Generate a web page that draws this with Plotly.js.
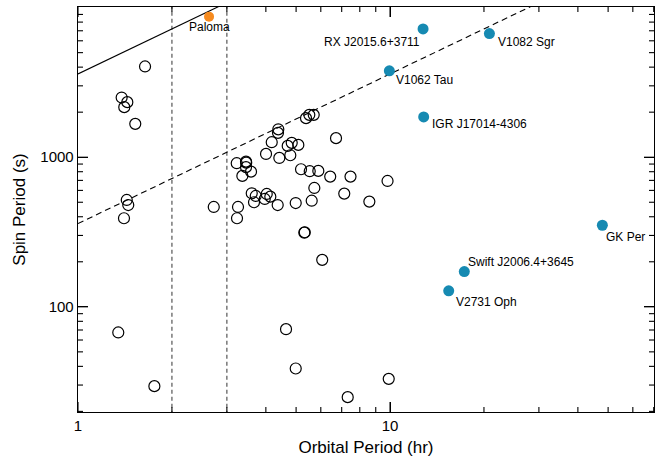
<!DOCTYPE html>
<html>
<head>
<meta charset="utf-8">
<script src="https://cdn.plot.ly/plotly-3.0.1.min.js"></script>
<style>html,body{margin:0;padding:0;background:#fff}#chart{width:660px;height:457px}</style>
</head>
<body>
<div id="chart"></div>
<script>
// Open circles: orbital period (hr) and spin period (s)
const openOrb = [1.640, 1.380, 1.439, 1.407, 1.526, 1.433, 1.449, 1.404, 1.346, 1.757,
  4.385, 4.375, 4.177, 4.005, 4.418, 4.700, 4.841, 5.083, 4.791, 6.713,
  5.380, 5.512, 5.694, 3.226, 3.455, 3.460, 3.455, 3.585, 3.363, 5.185,
  5.529, 5.891, 6.432, 7.470, 9.818, 5.720, 7.134, 8.585, 5.610, 4.986,
  4.365, 3.604, 3.712, 3.665, 3.967, 4.026, 4.134, 2.723, 3.257, 3.233,
  5.313, 5.330, 6.063, 4.642, 4.986, 7.318, 9.904];
const openSpin = [4041, 2505, 2334, 2161, 1671, 518, 479, 391, 67.4, 29.5,
  1536, 1455, 1260, 1052, 989, 1190, 1247, 1209, 1031, 1341,
  1824, 1919, 1919, 912, 935, 920, 858, 801, 750, 831,
  806, 810, 742, 742, 694, 623, 571, 505, 512, 494,
  479, 574, 551, 500, 526, 568, 545, 465, 465, 391,
  313, 315, 206, 70.9, 38.7, 24.9, 33.0];

// Named systems (filled)
const namedNames = ["RX J2015.6+3711", "V1082 Sgr", "V1062 Tau", "IGR J17014-4306", "GK Per", "Swift J2006.4+3645", "V2731 Oph"];
const namedOrb = [12.76, 20.82, 9.95, 12.82, 47.92, 17.3, 15.42];
const namedSpin = [7196, 6700, 3780, 1859, 351, 172, 128];

const palomaName = "Paloma";
const palomaOrb = [2.63];
const palomaSpin = [8700];

// Reference lines: spin = orbital period, and spin = 0.1 orbital period
const lineOrb = [1, 70];
const secPerHr = 3600;
const syncSpin = lineOrb.map(p => p * secPerHr);
const tenthSpin = lineOrb.map(p => 0.1 * p * secPerHr);
const gapEdges = [2, 3];
const gapSpin = [19, 11000];

const xTicks = [1, 10];
const xTickText = ["1", "10"];
const xMinor = [2,3,4,5,6,7,8,9,20,30,40,50,60,70];
const yTicks = [100, 1000];
const yTickText = ["100", "1000"];
const yMinor = [20,30,40,50,60,70,80,90,200,300,400,500,600,700,800,900,2000,3000,4000,5000,6000,7000,8000,9000];

const FONT = "Liberation Sans, Arial, Helvetica, sans-serif";
const blue = "#168ab2";
const orange = "#f68b1f";
const W = 660, H = 457;
const M = {l: 78, r: 6, t: 7, b: 45};
const X_RANGE = [0, 1.846];
const Y_RANGE = [1.297, 4.004];
const MAJOR_LEN = 10, MINOR_LEN = 5;

// pixels per decade, from the axis ranges and plot size
const pxPerDecX = (W - M.l - M.r) / (X_RANGE[1] - X_RANGE[0]);
const pxPerDecY = (H - M.t - M.b) / (Y_RANGE[1] - Y_RANGE[0]);

// Tick marks on all four sides, built as one line trace with gaps
const tickX = [], tickY = [];
function xTick(v, len) {
  const d = len / pxPerDecY;
  tickX.push(v, v, null, v, v, null);
  tickY.push(Math.pow(10, Y_RANGE[0]), Math.pow(10, Y_RANGE[0] + d), null,
             Math.pow(10, Y_RANGE[1]), Math.pow(10, Y_RANGE[1] - d), null);
}
function yTick(v, len) {
  const d = len / pxPerDecX;
  tickY.push(v, v, null, v, v, null);
  tickX.push(Math.pow(10, X_RANGE[0]), Math.pow(10, X_RANGE[0] + d), null,
             Math.pow(10, X_RANGE[1]), Math.pow(10, X_RANGE[1] - d), null);
}
xTicks.forEach(v => xTick(v, MAJOR_LEN));
xMinor.forEach(v => xTick(v, MINOR_LEN));
yTicks.forEach(v => yTick(v, MAJOR_LEN));
yMinor.forEach(v => yTick(v, MINOR_LEN));

const traces = [];
gapEdges.forEach(g => traces.push({
  x: [g, g], y: gapSpin, mode: "lines", showlegend: false, hoverinfo: "skip",
  line: {color: "#555", width: 1.2, dash: "4px,3px"}
}));
traces.push({x: lineOrb, y: syncSpin, mode: "lines", showlegend: false, line: {color: "#000", width: 1.1}});
traces.push({x: lineOrb, y: tenthSpin, mode: "lines", showlegend: false, line: {color: "#000", width: 1.1, dash: "6px,4px"}});
traces.push({x: tickX, y: tickY, mode: "lines", showlegend: false, hoverinfo: "skip", connectgaps: false,
  line: {color: "#000", width: 1.1}});
traces.push({x: openOrb, y: openSpin, mode: "markers", showlegend: false,
  marker: {symbol: "circle-open", size: 11, color: "#000", line: {width: 1.2, color: "#000"}}});
traces.push({x: namedOrb, y: namedSpin, mode: "markers", showlegend: false, marker: {symbol: "circle", size: 11, color: blue}});
traces.push({x: palomaOrb, y: palomaSpin, mode: "markers", showlegend: false, marker: {symbol: "circle", size: 10, color: orange}});

const offsets = [
  {xanchor: "right", xshift: -1, yshift: -13},
  {xanchor: "left", xshift: 7, yshift: -8},
  {xanchor: "left", xshift: 5, yshift: -9},
  {xanchor: "left", xshift: 6, yshift: -7},
  {xanchor: "left", xshift: 2, yshift: -12},
  {xanchor: "left", xshift: 2, yshift: 10},
  {xanchor: "left", xshift: 5, yshift: -11}
];
const annFont = {family: FONT, size: 12, color: "#000"};
const annotations = namedNames.map((n, i) => Object.assign({
  x: Math.log10(namedOrb[i]), y: Math.log10(namedSpin[i]), xref: "x", yref: "y",
  text: n, showarrow: false, yanchor: "middle", font: annFont
}, offsets[i]));
annotations.push({x: Math.log10(palomaOrb[0]), y: Math.log10(palomaSpin[0]), xref: "x", yref: "y",
  text: palomaName, showarrow: false, xanchor: "center", yanchor: "middle", yshift: -10, font: annFont});

const axisCommon = {
  showgrid: false, zeroline: false, showline: true, linecolor: "#000", linewidth: 1.3,
  mirror: "ticks", ticks: "inside", ticklen: MAJOR_LEN, tickwidth: 1, tickcolor: "#000",
  tickfont: {family: FONT, size: 15, color: "#000"}
};

const layout = {
  width: W, height: H,
  margin: M,
  paper_bgcolor: "#fff", plot_bgcolor: "#fff",
  font: {family: FONT, color: "#000"},
  xaxis: Object.assign({}, axisCommon, {
    type: "log", range: X_RANGE, tickmode: "array", tickvals: xTicks, ticktext: xTickText,
    title: {text: "Orbital Period (hr)", font: {family: FONT, size: 17, color: "#000"}, standoff: 8}
  }),
  yaxis: Object.assign({}, axisCommon, {
    type: "log", range: Y_RANGE, tickmode: "array", tickvals: yTicks, ticktext: yTickText,
    title: {text: "Spin Period (s)", font: {family: FONT, size: 17, color: "#000"}, standoff: 10}
  }),
  annotations: annotations,
  showlegend: false
};

Plotly.newPlot("chart", traces, layout, {staticPlot: true, displayModeBar: false});
</script>
</body>
</html>
